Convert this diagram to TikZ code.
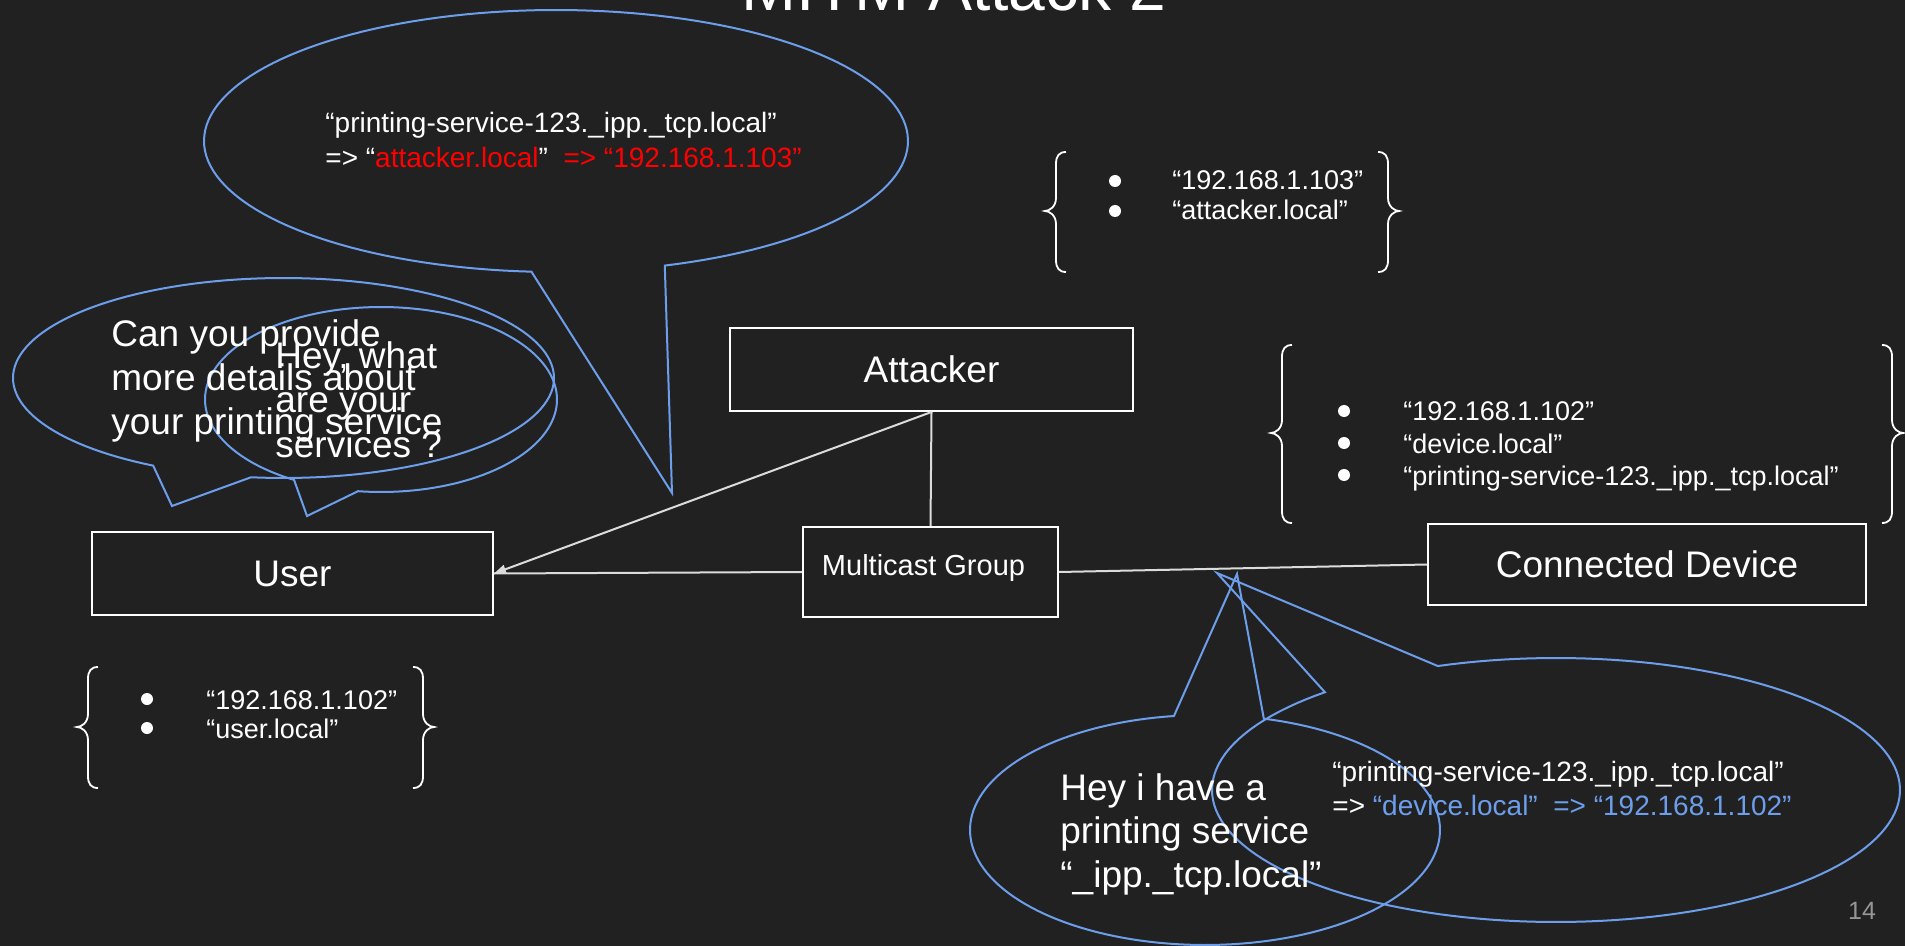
\documentclass[tikz,border=0pt]{standalone}
\usepackage{fontspec}
\setmainfont{Liberation Sans}
\usetikzlibrary{arrows.meta}
\definecolor{bgc}{RGB}{33,33,33}
\definecolor{bblue}{RGB}{109,158,235}
\definecolor{lgray}{RGB}{220,220,220}
\definecolor{pnum}{RGB}{150,150,150}
\newcommand{\fbig}{\fontsize{18.5}{22}\selectfont}
\newcommand{\fmid}{\fontsize{14}{17}\selectfont}
\newcommand{\fsmall}{\fontsize{13.5}{16}\selectfont}
\newcommand{\bracL}[4]{%
  \draw[brst] ({#1+10},#2) .. controls ({#1+3},#2) and (#1,{#2+4}) .. (#1,{#2+12})
    -- (#1,{#4-13}) .. controls (#1,{#4-4}) and ({#1-7},#4) .. ({#1-11},#4)
    .. controls ({#1-7},#4) and (#1,{#4+4}) .. (#1,{#4+13})
    -- (#1,{#3-12}) .. controls (#1,{#3-4}) and ({#1+3},#3) .. ({#1+10},#3);}
\newcommand{\bracR}[4]{%
  \draw[brst] ({#1-10},#2) .. controls ({#1-3},#2) and (#1,{#2+4}) .. (#1,{#2+12})
    -- (#1,{#4-13}) .. controls (#1,{#4-4}) and ({#1+7},#4) .. ({#1+11},#4)
    .. controls ({#1+7},#4) and (#1,{#4+4}) .. (#1,{#4+13})
    -- (#1,{#3-12}) .. controls (#1,{#3-4}) and ({#1-3},#3) .. ({#1-10},#3);}
\begin{document}
\begin{tikzpicture}[x=0.5pt,y=-0.5pt,
  boxst/.style={draw=white, line width=1pt, inner sep=0pt, text=white, font=\fbig},
  conn/.style={draw=lgray, line width=1pt},
  bubble/.style={draw=bblue, line width=1pt, line join=miter},
  txt/.style={text=white, inner sep=0pt, anchor=base west},
  brst/.style={draw=white, line width=0.9pt},
  bul/.style={circle, fill=white, inner sep=0pt, minimum size=6pt}]
\useasboundingbox (0,0) rectangle (1905,946);
\fill[bgc] (0,0) rectangle (1905,946);
\clip (0,0) rectangle (1905,946);

% title (cut off at the top)
\node[text=white, inner sep=0pt, anchor=base, font=\fontsize{33}{40}\selectfont] (title) at (954,11) {MITM Attack 2};

% speech bubbles
\coordinate (tipT) at (672,493);
\draw[bubble] (tipT) -- plot[domain=72:-266,samples=150] ({556+352*cos(\x)},{141+131*sin(\x)}) -- cycle;
\coordinate (tip1) at (172,506);
\draw[bubble] (tip1) -- plot[domain=96.9:-241.2,samples=150] ({283.5+270.5*cos(\x)},{378+100*sin(\x)}) -- cycle;
\coordinate (tip2) at (307,516);
\draw[bubble] (tip2) -- plot[domain=97.5:-240.4,samples=150] ({381+176*cos(\x)},{399.5+92.5*sin(\x)}) -- cycle;
\coordinate (tip3) at (1237,574);
\draw[bubble] (tip3) -- plot[domain=-75.5:262.4,samples=150] ({1205+235*cos(\x)},{830+115*sin(\x)}) -- cycle;
\coordinate (tip4) at (1217,573);
\draw[bubble] (tip4) -- plot[domain=-110.1:227.8,samples=150] ({1556+344*cos(\x)},{790+132*sin(\x)}) -- cycle;

% boxes
\node[boxst, minimum width=201.5pt, minimum height=41.5pt] (attacker) at (931.5,369.5) {Attacker};
\node[boxst, minimum width=200.5pt, minimum height=41.5pt] (user) at (292.5,573.5) {User};
\node[boxst, minimum width=127.5pt, minimum height=45pt, font=\fontsize{14.5}{17}\selectfont,
      text height=6pt, text depth=3pt] (multicast) at (930.5,572) {Multicast Group\hspace*{7pt}};
\node[boxst, minimum width=219pt, minimum height=40.5pt] (device) at (1647,564.5) {Connected Device};

% connectors
\draw[conn, -{Triangle[length=6pt,width=4.5pt]}] (attacker.south) -- (user.east);
\draw[conn] (attacker.south) -- (multicast.north);
\draw[conn] (multicast.west) -- (user.east);
\draw[conn] (multicast.east) -- (device.west);

% bubble texts
\node[txt, font=\fmid] (tq1) at (325,133) {“printing-service-123.\_ipp.\_tcp.local”};
\node[txt, font=\fmid] (tq2) at (325,168) {=> “\textcolor{red}{attacker.local}”~~\textcolor{red}{=> “192.168.1.103”}};

\node[txt, font=\fbig] (c1) at (111,347) {Can you provide};
\node[txt, font=\fbig] (c2) at (111,390.5) {more details about};
\node[txt, font=\fbig] (c3) at (111,434) {your printing service};

\node[txt, font=\fbig] (h1) at (275,369) {Hey, what};
\node[txt, font=\fbig] (h2) at (275,413) {are your};
\node[txt, font=\fbig] (h3) at (275,457) {services ?};

\node[txt, font=\fbig] (p1) at (1060,800) {Hey i have a};
\node[txt, font=\fbig] (p2) at (1060,843.5) {printing service};
\node[txt, font=\fbig] (p3) at (1060,887) {“\_ipp.\_tcp.local”};

\node[txt, font=\fmid] (d1) at (1332,781) {“printing-service-123.\_ipp.\_tcp.local”};
\node[txt, font=\fmid] (d2) at (1332,815) {=> \textcolor{bblue}{“device.local”~~=> “192.168.1.102”}};

% braces
\bracL{1056}{152}{272}{211}
\bracR{1388}{152}{272}{211}
\bracL{1282}{345}{523}{433}
\bracR{1892}{345}{523}{433}
\bracL{88}{667}{788}{727}
\bracR{423}{667}{788}{727}

% brace lists
\node[bul] (ba1) at (1115,181) {};
\node[bul] (ba2) at (1115,211) {};
\node[txt, font=\fsmall] (la1) at (1172,190) {“192.168.1.103”};
\node[txt, font=\fsmall] (la2) at (1172,220) {“attacker.local”};

\node[bul] (bd1) at (1344,411) {};
\node[bul] (bd2) at (1344,443) {};
\node[bul] (bd3) at (1344,475) {};
\node[txt, font=\fsmall] (ld1) at (1403,421) {“192.168.1.102”};
\node[txt, font=\fsmall] (ld2) at (1403,453) {“device.local”};
\node[txt, font=\fsmall] (ld3) at (1403,485) {“printing-service-123.\_ipp.\_tcp.local”};

\node[bul] (bu1) at (147,699) {};
\node[bul] (bu2) at (147,728) {};
\node[txt, font=\fsmall] (lu1) at (206,709) {“192.168.1.102”};
\node[txt, font=\fsmall] (lu2) at (206,738) {“user.local”};

% slide number
\node[text=pnum, inner sep=0pt, font=\fontsize{12.5}{15}\selectfont] (pg) at (1862,911) {14};
\end{tikzpicture}
\end{document}
